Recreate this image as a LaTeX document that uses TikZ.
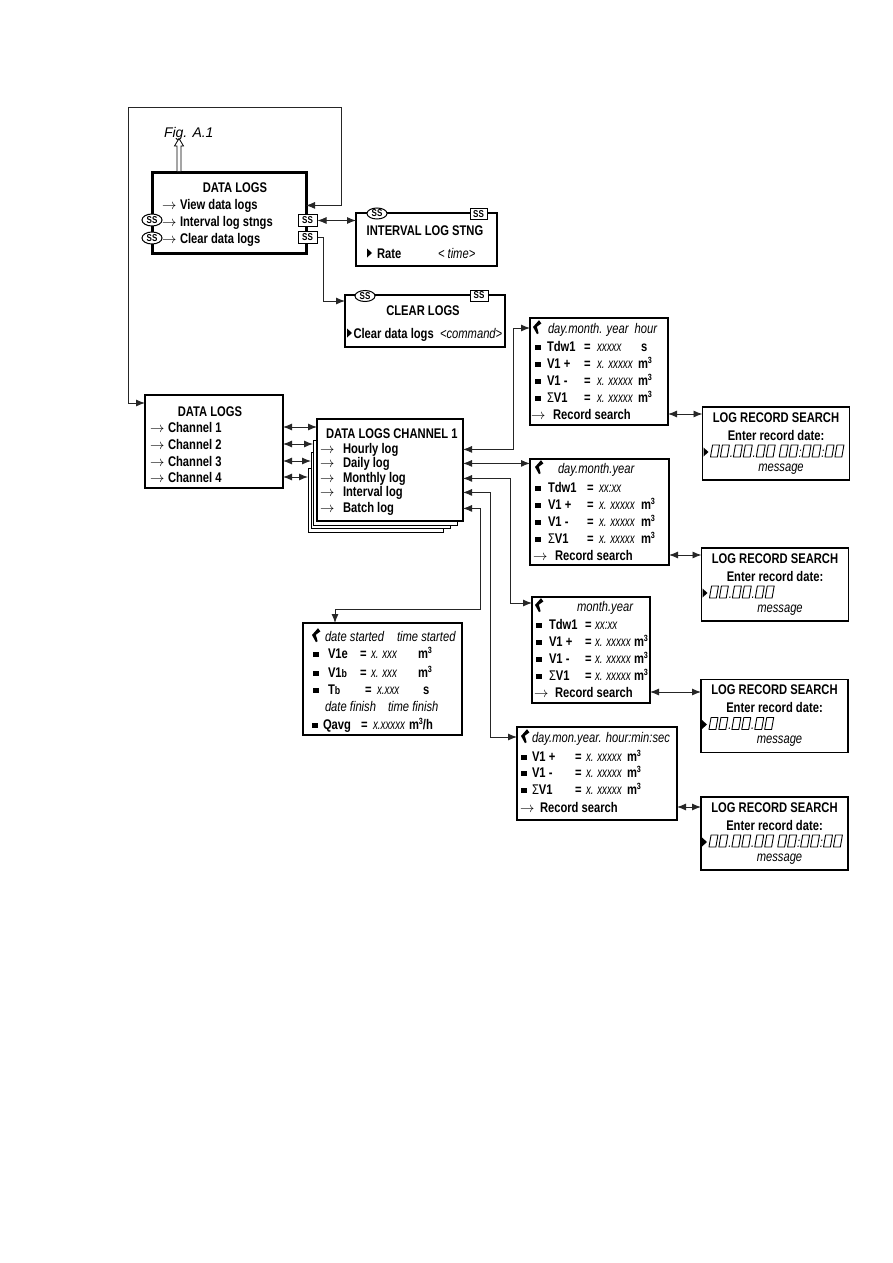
\documentclass[tikz,border=0pt]{standalone}
\usepackage{fontspec}
\setmainfont{Liberation Sans}[FakeStretch=0.8]
\newfontfamily\widefont{Liberation Sans}
\newfontfamily\narrowfont{Liberation Sans}[FakeStretch=0.7]
\usetikzlibrary{shapes.geometric,arrows.meta,calc}
\newcommand\fs{\fontsize{14}{16}\selectfont}
\newcommand\ssfont{\fontsize{10}{10}\selectfont\bfseries}
\newcommand\dgt{\tikz[baseline=0pt,x=1pt,y=1pt]\draw[line width=0.9pt,line join=round](0.5,0)--(2.6,12)--(9.5,12)--(7.4,0)--cycle;}
\newcommand\dd{\dgt\dgt}
\newcommand\tri{\tikz[baseline=0pt,x=1pt,y=1pt]\fill (0,0.5)--(0,9.5)--(5,5)--cycle;}
\newcommand\sqb{\tikz[baseline=0pt,x=1pt,y=1pt]\fill (0,1) rectangle (5.5,6.5);}
\newcommand\qll{\tikz[baseline=0pt,x=1pt,y=1pt]\fill (6,12.8)--(0,6)--(4,-1.2)--(5.6,-0.2)--(4.6,3.6)--(3.8,6.2)--(8.4,9.6)--cycle;}
\newcommand\rar{$\rightarrow$}
\newcommand\msup{m\raisebox{4.5pt}{\fontsize{9}{9}\selectfont 3}}
\begin{document}
\begin{tikzpicture}[x=1pt,y=-1pt,
  bx/.style={draw,line width=1.5pt,fill=white,inner sep=0pt,outer sep=0pt,rectangle},
  tx/.style={anchor=base west,inner sep=0pt,outer sep=0pt,font=\fs\bfseries},
  itx/.style={anchor=base west,inner sep=0pt,outer sep=0pt,font=\fs\itshape},
  vtx/.style={anchor=base west,inner sep=0pt,outer sep=0pt,font=\fs\narrowfont\itshape},
  ctx/.style={anchor=base,inner sep=0pt,outer sep=0pt,font=\fs\bfseries},
  citx/.style={anchor=base,inner sep=0pt,outer sep=0pt,font=\fs\itshape},
  ssel/.style={ellipse,draw,line width=1pt,fill=white,inner sep=0pt,font=\ssfont},
  ssrc/.style={rectangle,draw,line width=1pt,fill=white,inner sep=0pt,font=\ssfont},
  cn/.style={draw=black!85,line width=0.9pt},
  dar/.style={cn,{Latex[length=9pt,width=7pt]}-{Latex[length=9pt,width=7pt]}},
  sar/.style={cn,-{Latex[length=9pt,width=7pt]}},
]
\useasboundingbox (0,0) rectangle (893,1263);
\newcommand\vrow[5]{%
  \node[tx] (#1s) at (\cS,#2) {\sqb};
  \node[tx] (#1l) at (\cL,#2) {#3};
  \node[tx] (#1e) at (\cE,#2) {=};
  \node[vtx] (#1v) at (\cV,#2) {#4};
  \node[tx] (#1u) at (\cU,#2) {#5};}
\newcommand\lrs[4]{%
  \node[bx,minimum width=147pt,minimum height=73pt] (#1) at (#2,#3) {};
  \node[ctx] (#1t) at ($(#1.north)+(0,15)$) {LOG RECORD SEARCH};
  \node[ctx] (#1e) at ($(#1.north)+(0,33)$) {Enter record date:};
  \node[itx] (#1d) at ($(#1.north west)+(1,50)$) {\tri\hspace{1.5pt}#4};
  \node[citx] (#1m) at ($(#1.north)+(5,64)$) {message};}

% ---------- top DATA LOGS ----------
\node[bx,line width=3pt,minimum width=154pt,minimum height=81pt] (dl1) at (229,212.5) {};
\node[ctx] (dl1t) at (235,192) {DATA LOGS};
\node[tx] (dl1r1) at (162,209) {\makebox[18pt][l]{\rar}View data logs};
\node[tx] (dl1r2) at (162,226) {\makebox[18pt][l]{\rar}Interval log stngs};
\node[tx] (dl1r3) at (162,243) {\makebox[18pt][l]{\rar}Clear data logs};
\node[ssel,minimum width=20pt,minimum height=12pt] (ss1e) at (152,220) {SS};
\node[ssel,minimum width=20pt,minimum height=12pt] (ss2e) at (152,238) {SS};
\node[ssrc,minimum width=19pt,minimum height=12pt] (ss1r) at (307.5,220.5) {SS};
\node[ssrc,minimum width=19pt,minimum height=12pt] (ss2r) at (307.5,237) {SS};
\node[itx,font=\fs\widefont\itshape] (fig) at (164,137) {Fig. A.1};
\draw[line width=0.8pt,fill=white] (177,171) -- (177,146) -- (174.5,146) -- (179,138.5) -- (183.5,146) -- (181,146) -- (181,171);

% ---------- INTERVAL LOG STNG ----------
\node[bx,minimum width=141pt,minimum height=53pt] (ils) at (426.5,239.5) {};
\node[ssel,minimum width=20pt,minimum height=11pt] (ilse) at (377,213.5) {SS};
\node[ssrc,minimum width=17pt,minimum height=11pt] (ilsr) at (478.5,214) {SS};
\node[ctx] (ilst) at (425,235) {INTERVAL LOG STNG};
\node[tx] (ilsrate) at (367,258) {\tri\hspace{5pt}Rate};
\node[itx] (ilstime) at (438,258) {< time>};

% ---------- CLEAR LOGS ----------
\node[bx,minimum width=160pt,minimum height=52pt] (cl) at (425,321) {};
\node[ssel,minimum width=20pt,minimum height=11pt] (cle) at (365,296) {SS};
\node[ssrc,minimum width=18pt,minimum height=11pt] (clr) at (479,295.5) {SS};
\node[ctx] (clt) at (423,315) {CLEAR LOGS};
\node[tx] (clrow) at (347,338) {\tri\hspace{1.5pt}Clear data logs};
\node[itx] (clcmd) at (440,338) {<command>};

% ---------- DATA LOGS (channels) ----------
\node[bx,minimum width=138pt,minimum height=93pt] (dl2) at (214,441.5) {};
\node[ctx] (dl2t) at (210,416) {DATA LOGS};
\node[tx] (c1) at (150,432) {\makebox[18pt][l]{\rar}Channel 1};
\node[tx] (c2) at (150,449) {\makebox[18pt][l]{\rar}Channel 2};
\node[tx] (c3) at (150,466) {\makebox[18pt][l]{\rar}Channel 3};
\node[tx] (c4) at (150,482) {\makebox[18pt][l]{\rar}Channel 4};

% ---------- DATA LOGS CHANNEL 1 stack ----------
\node[bx,line width=1pt,minimum width=135pt,minimum height=64pt] (s3) at (375.5,500) {};
\node[bx,line width=1pt,minimum width=139pt,minimum height=76pt] (s2) at (380.5,490) {};
\node[bx,line width=1pt,minimum width=144pt,minimum height=85pt] (s1) at (385,482.5) {};
\node[bx,minimum width=146pt,minimum height=102pt] (ch) at (390,470) {};
\node[tx] (cht) at (326,438) {DATA LOGS CHANNEL 1};
\node[tx] (chh) at (320,453) {\makebox[23pt][l]{\rar}Hourly log};
\node[tx] (chd) at (320,467) {\makebox[23pt][l]{\rar}Daily log};
\node[tx] (chm) at (320,482) {\makebox[23pt][l]{\rar}Monthly log};
\node[tx] (chi) at (320,496) {\makebox[23pt][l]{\rar}Interval log};
\node[tx] (chb) at (320,512) {\makebox[23pt][l]{\rar}Batch log};

% ---------- hourly ----------
\node[bx,minimum width=138pt,minimum height=107pt] (h) at (599,371.5) {};
\node[tx] (hql) at (533,333) {\qll};
\node[itx] (hq) at (548,333) {day.month. year\ \ hour};
\def\cS{535}\def\cL{547}\def\cE{584}\def\cV{597}\def\cU{638}
\vrow{ha}{351}{Tdw1}{xxxxx}{\hspace{3pt}s}
\vrow{hb}{368}{V1 +}{x. xxxxx}{\msup}
\vrow{hc}{385}{V1 -}{x. xxxxx}{\msup}
\vrow{hd}{402}{{\mdseries\char"03A3}V1}{x. xxxxx}{\msup}
\node[tx] (hrs) at (531,419) {\makebox[22pt][l]{\rar}Record search};

% ---------- daily ----------
\node[bx,minimum width=139pt,minimum height=106pt] (d) at (599.5,512) {};
\node[tx] (dql) at (535,473) {\qll};
\node[itx] (dq) at (558,473) {day.month.year};
\def\cS{535}\def\cL{548}\def\cE{587}\def\cV{599}\def\cU{641}
\vrow{da}{492}{Tdw1}{xx:xx}{}
\vrow{db}{509}{V1 +}{x. xxxxx}{\msup}
\vrow{dc}{526}{V1 -}{x. xxxxx}{\msup}
\vrow{dd}{543}{{\mdseries\char"03A3}V1}{x. xxxxx}{\msup}
\node[tx] (drs) at (533,560) {\makebox[22pt][l]{\rar}Record search};

% ---------- monthly ----------
\node[bx,minimum width=118pt,minimum height=106pt] (m) at (591,650) {};
\node[tx] (mql) at (535,611) {\qll};
\node[itx] (mq) at (577,611) {month.year};
\def\cS{536}\def\cL{549}\def\cE{585}\def\cV{595}\def\cU{634}
\vrow{ma}{629}{Tdw1}{xx:xx}{}
\vrow{mb}{646}{V1 +}{x. xxxxx}{\msup}
\vrow{mc}{663}{V1 -}{x. xxxxx}{\msup}
\vrow{md}{680}{{\mdseries\char"03A3}V1}{x. xxxxx}{\msup}
\node[tx] (mrs) at (534,697) {\makebox[21pt][l]{\rar}Record search};

% ---------- interval ----------
\node[bx,minimum width=160pt,minimum height=93pt] (i) at (597,773.5) {};
\node[tx] (iql) at (521,742) {\qll};
\node[itx] (iq) at (532,742) {day.mon.year. hour:min:sec};
\def\cS{521}\def\cL{532}\def\cE{575}\def\cV{586}\def\cU{627}
\vrow{ib}{761}{V1 +}{x. xxxxx}{\msup}
\vrow{ic}{777}{V1 -}{x. xxxxx}{\msup}
\vrow{id}{794}{{\mdseries\char"03A3}V1}{x. xxxxx}{\msup}
\node[tx] (irs) at (520,812) {\makebox[20pt][l]{\rar}Record search};

% ---------- batch ----------
\node[bx,minimum width=159pt,minimum height=112pt] (b) at (382.5,679) {};
\node[tx] (bql) at (312,641) {\qll};
\node[itx] (bq1) at (325,641) {date started};
\node[itx] (bq2) at (397,641) {time started};
\def\cS{313}\def\cL{328}\def\cE{360}\def\cV{371}\def\cU{418}
\vrow{ba}{658}{V1e}{x. xxx}{\msup}
\vrow{bb}{677}{V1{\fontsize{11}{12}\selectfont b}}{x. xxx}{\msup}
\def\cE{365}\def\cV{377}\def\cU{423}
\vrow{bc}{694}{T{\fontsize{11}{12}\selectfont b}}{x.xxx}{s}
\node[itx] (bf1) at (325,711) {date finish};
\node[itx] (bf2) at (388,711) {time finish};
\def\cS{312}\def\cL{323}\def\cE{361}\def\cV{373}\def\cU{409}
\vrow{bd}{729}{Qavg}{x.xxxxx}{\msup/h}

% ---------- log record search boxes ----------
\lrs{r1}{776}{443.5}{\dd.\dd.\dd\ \dd:\dd:\dd}
\lrs{r2}{775}{584.5}{\dd.\dd.\dd}
\lrs{r3}{774.5}{716}{\dd.\dd.\dd}
\lrs{r4}{774.5}{833.5}{\dd.\dd.\dd\ \dd:\dd:\dd}

% ---------- connectors ----------
\coordinate (lpR) at (341,107);
\coordinate (lpL) at (128,107);
\draw[dar] (dl1.east |- dl1r1) -| (lpR) -- (lpL) |- ($(dl2.north west)+(0,8)$);
\draw[dar] (ss1r.east) -- (ils.west |- ss1r);
\draw[sar] (ss2r.east) -- ++(6,0) |- ($(cl.north west)+(0,6)$);
\draw[dar] (dl2.east |- c1) -- (ch.west |- c1);
\draw[dar] (dl2.east |- c2) -- (s1.west |- c2);
\draw[dar] (dl2.east |- c3) -- (s2.west |- c3);
\draw[dar] (dl2.east |- c4) -- (s3.west |- c4);
\draw[dar] (ch.east |- chh) -- ++(50,0) |- ($(h.north west)+(0,10)$);
\draw[dar] (ch.east |- chd) -- (d.west |- chd);
\draw[dar] (ch.east |- chm) -- ++(47,0) |- ($(m.north west)+(0,6)$);
\draw[dar] (ch.east |- chi) -- ++(27,0) |- ($(i.north west)+(0,10)$);
\draw[dar] (ch.east |- chb) -- ++(17,0) -- ++(0,101) -| ($(b.north west)+(32,0)$);
\draw[dar] (h.east |- hrs) -- (r1.west |- hrs);
\draw[dar] (d.east |- drs) -- (r2.west |- drs);
\draw[dar] (m.east |- mrs) -- (r3.west |- mrs);
\draw[dar] (i.east |- irs) -- (r4.west |- irs);
\end{tikzpicture}
\end{document}
